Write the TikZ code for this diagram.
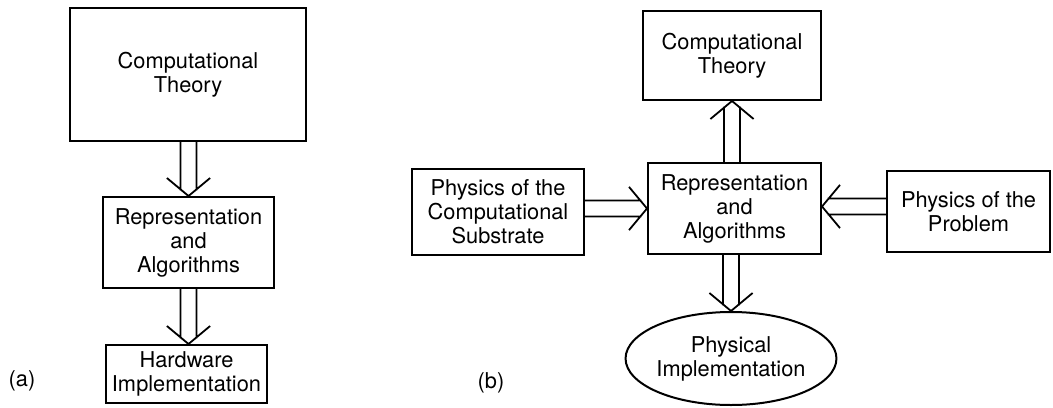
\documentclass[tikz,border=0pt]{standalone}
\usepackage{fontspec}
\setmainfont{TeX Gyre Heros}
\usetikzlibrary{calc,shapes.geometric}
\tikzset{
  box/.style   ={draw,line width=1pt,align=center,inner sep=0pt,
                 font=\fontsize{10.9pt}{12pt}\selectfont},
  oval/.style  ={ellipse,draw,line width=1pt,align=center,inner sep=0pt,
                 font=\fontsize{10.9pt}{12pt}\selectfont},
  lbl/.style   ={font=\fontsize{10.9pt}{12pt}\selectfont,inner sep=0pt},
  dblarrow/.style={line width=0.9pt,line join=miter,
    to path={
      ($(\tikztostart)!4pt!90:(\tikztotarget)$) --
      ($(\tikztotarget)!2.8pt!(\tikztostart)!4pt!-90:(\tikztostart)$)
      ($(\tikztostart)!4pt!-90:(\tikztotarget)$) --
      ($(\tikztotarget)!2.8pt!(\tikztostart)!4pt!90:(\tikztostart)$)
      ($(\tikztotarget)!9pt!(\tikztostart)!10.8pt!90:(\tikztostart)$) --
      (\tikztotarget) --
      ($(\tikztotarget)!9pt!(\tikztostart)!10.8pt!-90:(\tikztostart)$)}},
}

\begin{document}
\begin{tikzpicture}[x=0.5pt,y=-0.5pt]
\useasboundingbox (0,0) rectangle (1053,407);
% (a) the three levels
\node[box,minimum width=118pt,minimum height=66.5pt] (ctA) at (188,74.5) {Computational\\Theory};
\node[box,minimum width=85.5pt,minimum height=45.5pt] (raA) at (188.5,242.5) {Representation\\and\\Algorithms};
\node[box,minimum width=80.5pt,minimum height=29pt] (hiA) at (186.5,374) {Hardware\\Implementation};
\coordinate (ctAfoot) at (raA.north |- ctA.south);
\coordinate (hiAtop) at (raA.south |- hiA.north);
\draw[dblarrow] (ctAfoot) to (raA.north);
\draw[dblarrow] (raA.south) to (hiAtop);
\node[lbl] (labA) at (22,381) {(a)};
% (b) representation in the middle
\node[box,minimum width=89pt,minimum height=44.5pt] (ctB) at (732,55.5) {Computational\\Theory};
\node[box,minimum width=86.5pt,minimum height=45.5pt] (raB) at (734.5,208.5) {Representation\\and\\Algorithms};
\node[box,minimum width=86pt,minimum height=43pt] (psB) at (498,212) {Physics of the\\Computational\\Substrate};
\node[box,minimum width=81.5pt,minimum height=40.5pt] (ppB) at (968.5,211.5) {Physics of the\\Problem};
\node[oval,minimum width=91pt,minimum height=46.5pt] (piB) at (731,358.5) {Physical\\Implementation};
\coordinate (ctBfoot) at (raB.north -| ctB.south);
\coordinate (psBout) at (psB.east |- raB.west);
\coordinate (ppBout) at ($(ppB.west |- raB.east)+(0,-2)$);
\coordinate (raBin) at ($(raB.east)+(0,-2)$);
\coordinate (raBfoot) at (raB.south -| piB.north);
\draw[dblarrow] (ctBfoot) to (ctB.south);
\draw[dblarrow] (psBout) to (raB.west);
\draw[dblarrow] (ppBout) to (raBin);
\draw[dblarrow] (raBfoot) to (piB.north);
\node[lbl] (labB) at (491,383) {(b)};
\end{tikzpicture}
\end{document}
